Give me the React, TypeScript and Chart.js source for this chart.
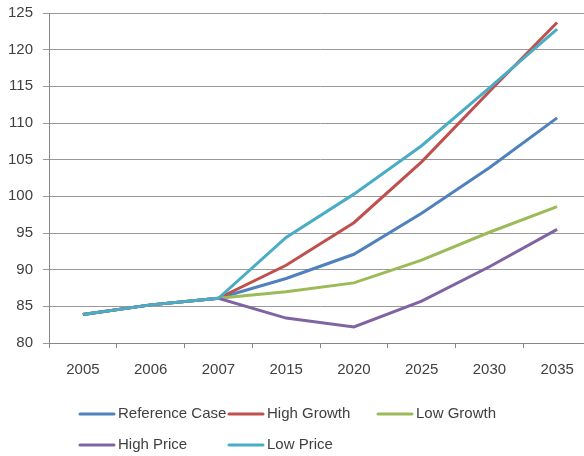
import React, { useEffect, useRef } from "react";
import { Chart, registerables } from "chart.js";

Chart.register(...registerables);

const years = ["2005", "2006", "2007", "2015", "2020", "2025", "2030", "2035"];
const referenceCase = [83.9, 85.2, 86.1, 88.8, 92.1, 97.7, 103.9, 110.7];
const highGrowth = [83.9, 85.2, 86.1, 90.6, 96.4, 104.7, 114.3, 123.7];
const lowGrowth = [83.9, 85.2, 86.1, 87.0, 88.2, 91.3, 95.1, 98.6];
const highPrice = [83.9, 85.2, 86.1, 83.4, 82.2, 85.7, 90.4, 95.5];
const lowPrice = [83.9, 85.2, 86.1, 94.4, 100.3, 106.9, 114.8, 122.8];

const seriesNames = ["Reference Case", "High Growth", "Low Growth", "High Price", "Low Price"];
const seriesData = [referenceCase, highGrowth, lowGrowth, highPrice, lowPrice];
const seriesColors = ["#4F81BD", "#C0504D", "#9BBB59", "#8064A2", "#4BACC6"];

const FONT = "'Liberation Sans', Arial, sans-serif";
const TEXT = "#404040";

const gridLegend = {
  id: "gridLegend",
  afterDraw(chart: any) {
    const ctx = chart.ctx;
    const cols = [80, 229, 378];
    const rows = [414, 445];
    ctx.save();
    ctx.font = `15px ${FONT}`;
    ctx.textBaseline = "middle";
    ctx.textAlign = "left";
    chart.data.datasets.forEach((ds: any, i: number) => {
      const x = cols[i % 3];
      const y = rows[Math.floor(i / 3)];
      ctx.strokeStyle = ds.borderColor;
      ctx.lineWidth = 3;
      ctx.lineCap = "round";
      ctx.beginPath();
      ctx.moveTo(x, y);
      ctx.lineTo(x + 34, y);
      ctx.stroke();
      ctx.fillStyle = TEXT;
      ctx.fillText(ds.label, x + 38, y);
    });
    ctx.restore();
  },
};

export default function App() {
  const ref = useRef<HTMLCanvasElement>(null);
  useEffect(() => {
    document.body.style.margin = "0";
    document.body.style.overflow = "hidden";
    if (!ref.current) return;
    const chart = new Chart(ref.current, {
      type: "line",
      data: {
        labels: years,
        datasets: seriesNames.map((name, i) => ({
          label: name,
          data: seriesData[i],
          borderColor: seriesColors[i],
          backgroundColor: seriesColors[i],
          borderWidth: 3,
          pointRadius: 0,
          tension: 0,
          order: seriesNames.length - i,
        })),
      },
      options: {
        animation: false,
        responsive: false,
        devicePixelRatio: 1,
        layout: { padding: { top: 13, right: 9, left: 0, bottom: 0 } },
        plugins: { legend: { display: false }, tooltip: { enabled: false } },
        scales: {
          x: {
            offset: true,
            grid: {
              offset: true,
              drawOnChartArea: false,
              drawTicks: true,
              tickLength: 5,
              color: "#868686",
            },
            border: { color: "#868686" },
            ticks: { color: TEXT, font: { family: FONT, size: 15 }, padding: 13, maxRotation: 0 },
            afterFit: (s: any) => {
              s.height = 113;
              s.paddingLeft = 0;
              s.paddingRight = 0;
            },
          },
          y: {
            min: 80,
            max: 125,
            ticks: { stepSize: 5, color: TEXT, font: { family: FONT, size: 15 }, padding: 10 },
            grid: { color: "#999999", lineWidth: 1, tickLength: 6 },
            border: { color: "#868686" },
            afterFit: (s: any) => {
              s.width = 49;
              s.paddingTop = 0;
              s.paddingBottom = 0;
            },
          },
        },
      },
      plugins: [gridLegend],
    });
    return () => chart.destroy();
  }, []);
  return (
    <div style={{ width: 584, height: 456, overflow: "hidden", background: "#fff" }}>
      <canvas ref={ref} width={600} height={456} style={{ width: 600, height: 456, display: "block" }} />
    </div>
  );
}
